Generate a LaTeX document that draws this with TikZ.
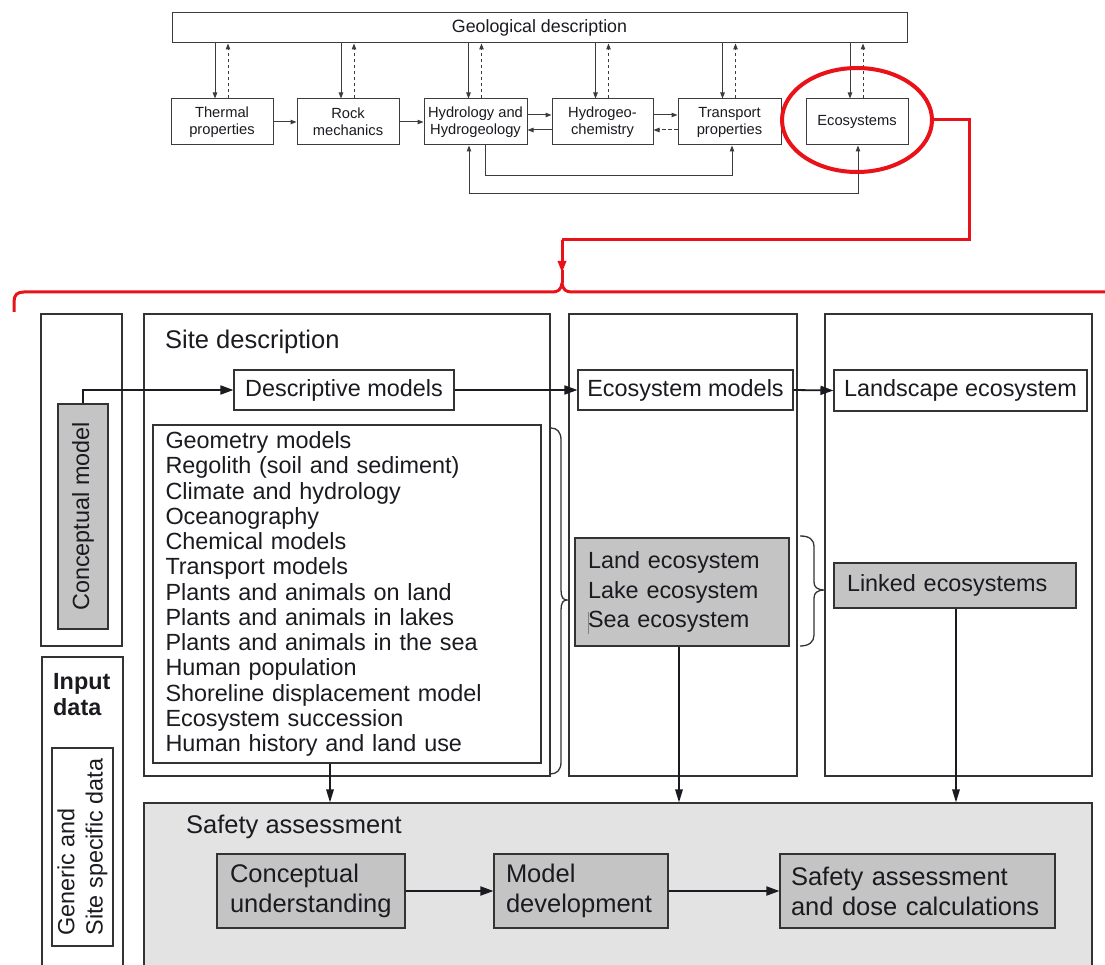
\documentclass[tikz,border=0pt]{standalone}
\usepackage{fontspec}
\setmainfont{Liberation Sans}
\usetikzlibrary{arrows.meta}
\definecolor{ink}{HTML}{1A1A20}
\definecolor{linec}{HTML}{333333}
\definecolor{thinline}{HTML}{3C3C3C}
\definecolor{boxgray}{HTML}{C4C4C4}
\definecolor{safegray}{HTML}{E3E3E3}
\definecolor{ringred}{RGB}{232,18,24}
\newcommand{\ftop}{\fontsize{14.7}{17}\selectfont}
\newcommand{\fgeo}{\fontsize{17.8}{20}\selectfont}
\newcommand{\fmain}{\fontsize{23.4}{25.25}\selectfont}
\newcommand{\feco}{\fontsize{23.4}{29.5}\selectfont}
\newcommand{\fbig}{\fontsize{25.5}{30}\selectfont}

\begin{document}
\begin{tikzpicture}[x=1pt,y=-1pt,
  every node/.style={inner sep=0pt,text=ink},
  topbox/.style={draw=thinline,line width=1pt,fill=white,font=\ftop,align=center,minimum height=46pt},
  toparrow/.style={draw=thinline,line width=1pt,-{Triangle[length=6pt,width=4.5pt]}},
  topdash/.style={toparrow,dash pattern=on 3.5pt off 2.5pt},
  colbox/.style={draw=linec,line width=1.1pt},
  plainbox/.style={draw=linec,line width=1.1pt,fill=white,font=\fmain},
  greybox/.style={draw=linec,line width=1.1pt,fill=boxgray},
  bigarrow/.style={draw=ink,line width=1.8pt,-{Triangle[length=13pt,width=9pt]}},
  downarrow/.style={draw=ink,line width=1.4pt,-{Triangle[length=13pt,width=7.5pt]}},
  bracepath/.style={draw=linec,line width=1.3pt},
  redline/.style={draw=ringred,line width=3pt}
]
\useasboundingbox (0,0) rectangle (1105,965);

% ---------- upper scheme: geological description and its disciplines ----------
\node[draw=thinline,line width=1pt,font=\fgeo,minimum width=735pt,minimum height=30pt] (geo) at (539.5,28) {Geological description};

\node[topbox,minimum width=102pt] (thermal) at (222,122) {Thermal\\properties};
\node[topbox,minimum width=102pt] (rock) at (348,122) {Rock\\mechanics};
\node[topbox,minimum width=103pt] (hydro) at (475.5,122) {Hydrology and\\Hydrogeology};
\node[topbox,minimum width=101pt] (hchem) at (602.5,122) {Hydrogeo-\\chemistry};
\node[topbox,minimum width=103pt] (transp) at (729.5,122) {Transport\\properties};
\node[topbox,minimum width=102pt] (eco) at (857,122) {Ecosystems};

\foreach \b in {thermal,rock,hydro,hchem,transp,eco}{
  \draw[toparrow] ([xshift=-7pt]\b.north |- geo.south) -- ([xshift=-7pt]\b.north);
  \draw[topdash] ([xshift=6pt]\b.north) -- ([xshift=6pt]\b.north |- geo.south);
}

\draw[toparrow] (thermal.east) -- (rock.west);
\draw[toparrow] (rock.east) -- (hydro.west);
\draw[toparrow] ([yshift=7pt]hydro.east) -- ([yshift=7pt]hchem.west);
\draw[toparrow] ([yshift=-8pt]hchem.west) -- ([yshift=-8pt]hydro.east);
\draw[toparrow] ([yshift=7pt]hchem.east) -- ([yshift=7pt]transp.west);
\draw[topdash] ([yshift=-8pt]transp.west) -- ([yshift=-8pt]hchem.east);

\draw[toparrow] ([xshift=9.5pt]hydro.south) -- ++(0,30) -| ([xshift=2.5pt]transp.south);
\draw[draw=thinline,line width=1pt,{Triangle[length=6pt,width=4.5pt]}-{Triangle[length=6pt,width=4.5pt]}]
  ([xshift=-6.5pt]hydro.south) -- ++(0,48) -| ([xshift=1pt]eco.south);

% ---------- red highlight and leader ----------
\draw[ringred,line width=4pt] (857,120) ellipse [x radius=75pt,y radius=52pt];
\coordinate (ring) at (932,120);
\coordinate (drop) at (562,240);
\coordinate (cusp) at (562,283);
\draw[redline] (ring) -- (969,120) -- (969,240) -- (drop);
\draw[redline,-{Triangle[length=12pt,width=8pt]}] (drop) -- (562,273);
\draw[redline] (562,270) -- (cusp);
\draw[redline,line join=round] (14,312) -- (14,302) .. controls (14,295) and (17,292) .. (24,292)
  -- (552,292) .. controls (558,292) and (561,290) .. (cusp)
  .. controls (563,290) and (566,292) .. (572,292) -- (1110,292);

% ---------- lower scheme: column frames ----------
\node[colbox,minimum width=81pt,minimum height=332pt] (lcolA) at (81.5,480) {};
\node[colbox,minimum width=81pt,minimum height=328pt] (lcolB) at (82.5,821) {};
\node[colbox,minimum width=406pt,minimum height=462pt] (sitecol) at (347,545) {};
\node[colbox,minimum width=228pt,minimum height=462pt] (ecocol) at (683,545) {};
\node[colbox,minimum width=267pt,minimum height=462pt] (landcol) at (958.5,545) {};
\node[colbox,fill=safegray,minimum width=948pt,minimum height=187pt] (safety) at (618,896.5) {};

% left margin: conceptual model and input data
\node[greybox,minimum width=50pt,minimum height=225pt] (concept) at (83,516.5) {};
\node[font=\fmain,rotate=90] (conceptlbl) at (concept.center) {Conceptual model};
\node[font=\fmain\bfseries,align=left,anchor=north west] (inputlbl) at (53,673) {Input\\[0.6pt]data};
\node[draw=linec,line width=1.1pt,fill=white,minimum width=61pt,minimum height=198pt] (generic) at (82.5,847) {};
\node[font=\fmain,rotate=90,align=left] (genericlbl) at (generic.center) {Generic and\\[3pt]Site specific data};

% site description column
\node[font=\fbig,anchor=west] (sitelbl) at (165,342) {Site description};
\node[plainbox,minimum width=220pt,minimum height=40pt] (desc) at (344,390) {Descriptive models};
\node[plainbox,align=left,text width=363pt,inner xsep=12.5pt,minimum height=338pt] (list) at (347,594) {%
Geometry models\\
Regolith (soil and sediment)\\
Climate and hydrology\\
Oceanography\\
Chemical models\\
Transport models\\
Plants and animals on land\\
Plants and animals in lakes\\
Plants and animals in the sea\\
Human population\\
Shoreline displacement model\\
Ecosystem succession\\
Human history and land use};

% ecosystem column
\node[plainbox,minimum width=215pt,minimum height=40pt] (ecom) at (685.5,390) {Ecosystem models};
\node[greybox,font=\feco,align=left,text width=188pt,inner xsep=13pt,minimum height=108pt] (land) at (682,592)
  {Land ecosystem\\Lake ecosystem\\Sea ecosystem};
\draw[draw=gray,line width=0.8pt] (588.5,612) -- (588.5,634);

% landscape column
\node[plainbox,minimum width=253pt,minimum height=41pt] (lands) at (960.5,390.5) {Landscape ecosystem};
\node[greybox,font=\fmain,align=left,text width=216pt,inner xsep=13pt,minimum height=45pt] (linked) at (955,585.5) {Linked ecosystems};

% safety assessment
\node[font=\fbig,anchor=west] (safelbl) at (186,827) {Safety assessment};
\node[greybox,font=\fbig,align=left,text width=162pt,inner xsep=13pt,minimum height=74pt] (cu) at (311,891) {Conceptual\\understanding};
\node[greybox,font=\fbig,align=left,text width=150pt,inner xsep=12pt,minimum height=74pt] (md) at (581,891) {Model\\development};
\node[greybox,font=\fbig,align=left,text width=253pt,inner xsep=11pt,minimum height=74pt] (sa) at (917.5,891) {Safety assessment\\and dose calculations};

% braces
\draw[bracepath] (551,428) .. controls (557,428) and (561,432) .. (561,440) -- (561,590)
  .. controls (561,597) and (563,600) .. (567,600)
  .. controls (563,600) and (561,603) .. (561,610) -- (561,762)
  .. controls (561,770) and (557,774) .. (550,774);
\draw[bracepath] (800,536) .. controls (809,536) and (814,539) .. (814,547) -- (814,582)
  .. controls (814,587) and (817,590) .. (825,590)
  .. controls (817,590) and (814,593) .. (814,598) -- (814,635)
  .. controls (814,642) and (809,646) .. (800,646);

% connectors
\draw[bigarrow] (concept.north) |- (desc.west);
\draw[bigarrow] (desc.east) -- (ecom.west);
\draw[bigarrow] (ecom.east) -- (lands.west);
\draw[downarrow] ([xshift=-17pt]list.south) -- ([xshift=-17pt]list.south |- safety.north);
\draw[downarrow] ([xshift=-3pt]land.south) -- ([xshift=-3pt]land.south |- safety.north);
\draw[downarrow] ([xshift=1pt]linked.south) -- ([xshift=1pt]linked.south |- safety.north);
\draw[bigarrow] (cu.east) -- (md.west);
\draw[bigarrow] (md.east) -- (sa.west);
\end{tikzpicture}
\end{document}
